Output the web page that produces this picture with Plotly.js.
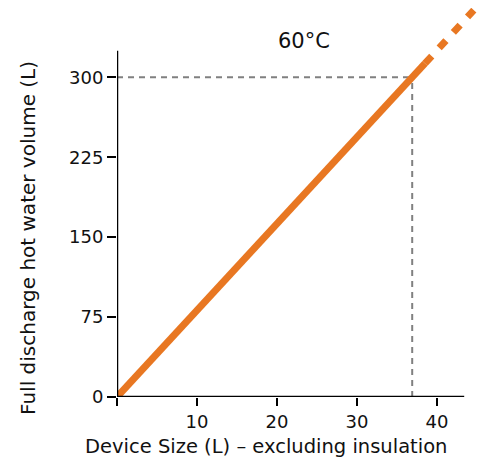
<!DOCTYPE html>
<html><head><meta charset="utf-8">
<script src="https://cdn.plot.ly/plotly-3.0.1.min.js"></script>
<style>body{margin:0;padding:0;background:#fff}</style>
</head><body>
<div id="chart" style="width:477px;height:466px"></div>
<script>
// Data
var solidSize = [0, 38.5];
var solidVolume = [0, 313];
var dashedSize = [38.5, 44.6];
var dashedVolume = [313, 363];
var refSizeH = [0, 36.9];
var refVolumeH = [300, 300];
var refSizeV = [36.9, 36.9];
var refVolumeV = [0, 300];
var xTickVals = [0, 10, 20, 30, 40];
var xTickText = ['', '10', '20', '30', '40'];
var yTickVals = [0, 75, 150, 225, 300];
var yTickText = ['0', '75', '150', '225', '300'];
var xAxisEnd = 43.4;
var yAxisEnd = 325;
var chartTitle = '60°C';
var xTitle = 'Device Size (L) – excluding insulation';
var yTitle = 'Full discharge hot water volume (L)';

var orange = '#E87722';
var grey = '#808080';
var font = '"DejaVu Sans", sans-serif';

var traces = [
  {x: refSizeH, y: refVolumeH, mode: 'lines', line: {color: grey, width: 2, dash: '6px,5px'}, hoverinfo: 'skip'},
  {x: refSizeV, y: refVolumeV, mode: 'lines', line: {color: grey, width: 2, dash: '6px,5px'}, hoverinfo: 'skip'},
  {x: solidSize, y: solidVolume, mode: 'lines', line: {color: orange, width: 7}},
  {x: dashedSize, y: dashedVolume, mode: 'lines', line: {color: orange, width: 7, dash: '10px,11px'}}
];

var layout = {
  width: 477, height: 466,
  margin: {l: 117, r: 0, t: 8, b: 69},
  showlegend: false,
  paper_bgcolor: '#fff', plot_bgcolor: '#fff',
  font: {family: font, color: '#111', size: 16},
  xaxis: {
    range: [0, 45], showgrid: false, zeroline: false, showline: false,
    tickmode: 'array', tickvals: xTickVals, ticktext: xTickText,
    ticks: 'outside', ticklen: 8, tickwidth: 2, tickcolor: '#000',
    tickfont: {size: 18, family: font}
  },
  yaxis: {
    range: [0, 365], showgrid: false, zeroline: false, showline: false,
    tickmode: 'array', tickvals: yTickVals, ticktext: yTickText,
    ticks: 'outside', ticklen: 9, tickwidth: 2, tickcolor: '#000',
    tickfont: {size: 18, family: font}
  },
  shapes: [
    {type: 'line', xref: 'x', yref: 'y', x0: 0, x1: xAxisEnd, y0: 0, y1: 0, line: {color: '#000', width: 2.5}},
    {type: 'line', xref: 'x', yref: 'y', x0: 0, x1: 0, y0: 0, y1: yAxisEnd, line: {color: '#000', width: 2.5}}
  ],
  annotations: [
    {text: chartTitle, xref: 'paper', yref: 'paper', x: 0.52, y: 0.915, xanchor: 'center', yanchor: 'middle', showarrow: false, font: {size: 21, family: font, color: '#111'}},
    {text: xTitle, xref: 'paper', yref: 'paper', x: 0.414, y: -0.1285, xanchor: 'center', yanchor: 'middle', showarrow: false, font: {size: 19.5, family: font, color: '#111'}},
    {text: yTitle, xref: 'paper', yref: 'paper', x: -0.247, y: 0.409, xanchor: 'center', yanchor: 'middle', textangle: -90, showarrow: false, font: {size: 20, family: font, color: '#111'}}
  ]
};

Plotly.newPlot('chart', traces, layout, {displayModeBar: false, staticPlot: true});
</script>
</body></html>
